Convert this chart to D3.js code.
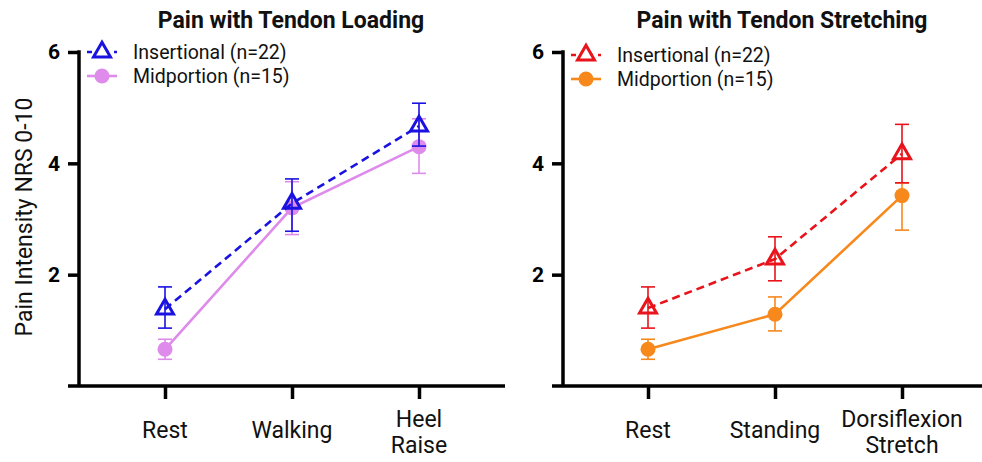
<!DOCTYPE html>
<html>
<head>
<meta charset="utf-8">
<script src="https://cdn.jsdelivr.net/npm/d3@7/dist/d3.min.js"></script>
<style>
  html, body { margin: 0; padding: 0; background: #fff; }
  svg { display: block; font-family: Roboto, "Noto Sans", sans-serif; }
</style>
</head>
<body>
<svg id="chart" width="982" height="462"></svg>
<script>
// Categories for each panel (labels may wrap onto two lines)
const loadingCategories = ["Rest", "Walking", "Heel Raise"];
const stretchCategories = ["Rest", "Standing", "Dorsiflexion Stretch"];
const loadingLabelLines = [["Rest"], ["Walking"], ["Heel", "Raise"]];
const stretchLabelLines = [["Rest"], ["Standing"], ["Dorsiflexion", "Stretch"]];

// Tendon loading: means with lower / upper error limits
const loadingInsertional = [1.38, 3.28, 4.67];
const loadingInsertionalLow = [1.04, 2.78, 4.31];
const loadingInsertionalHigh = [1.78, 3.72, 5.08];
const loadingMidportion = [0.66, 3.2, 4.3];
const loadingMidportionLow = [0.48, 2.72, 3.82];
const loadingMidportionHigh = [0.84, 3.67, 4.8];

// Tendon stretching
const stretchInsertional = [1.4, 2.28, 4.17];
const stretchInsertionalLow = [1.04, 1.89, 3.65];
const stretchInsertionalHigh = [1.78, 2.68, 4.7];
const stretchMidportion = [0.66, 1.29, 3.42];
const stretchMidportionLow = [0.48, 0.99, 2.8];
const stretchMidportionHigh = [0.84, 1.6, 3.65];

const yTicks = [2, 4, 6];
const seriesNames = ["Insertional (n=22)", "Midportion (n=15)"];

const svg = d3.select("#chart");
const y = d3.scaleLinear().domain([0, 6]).range([386, 52]);

function build(values, low, high) {
  return values.map((v, i) => ({ i, v, lo: low[i], hi: high[i] }));
}

const panels = [
  {
    title: "Pain with Tendon Loading", titleX: 291,
    cats: loadingCategories, lines: loadingLabelLines,
    xRange: [165, 419], axisX: 79, xAxisEnd: 505,
    legendDy: 0,
    ins: build(loadingInsertional, loadingInsertionalLow, loadingInsertionalHigh),
    mid: build(loadingMidportion, loadingMidportionLow, loadingMidportionHigh),
    insColor: "#1a12e0", midColor: "#de8bec"
  },
  {
    title: "Pain with Tendon Stretching", titleX: 782,
    cats: stretchCategories, lines: stretchLabelLines,
    xRange: [648, 902], axisX: 563, xAxisEnd: 982,
    legendDy: 3,
    ins: build(stretchInsertional, stretchInsertionalLow, stretchInsertionalHigh),
    mid: build(stretchMidportion, stretchMidportionLow, stretchMidportionHigh),
    insColor: "#e8131b", midColor: "#f7881c"
  }
];

const triangle = d3.symbol().type(d3.symbolTriangle).size(125);

function drawSeries(g, x, data, color, dashed, marker) {
  const line = d3.line().x(d => x(d.i)).y(d => y(d.v));
  g.append("path").datum(data)
    .attr("d", line).attr("fill", "none")
    .attr("stroke", color).attr("stroke-width", 2.6)
    .attr("stroke-dasharray", dashed ? "8,5" : null);
  const eb = g.append("g").selectAll("g").data(data).join("g")
    .attr("stroke", color).attr("stroke-width", 1.6);
  eb.append("line")
    .attr("x1", d => x(d.i)).attr("x2", d => x(d.i))
    .attr("y1", d => y(d.lo)).attr("y2", d => y(d.hi));
  eb.append("line")
    .attr("x1", d => x(d.i) - 7).attr("x2", d => x(d.i) + 7)
    .attr("y1", d => y(d.lo)).attr("y2", d => y(d.lo));
  eb.append("line")
    .attr("x1", d => x(d.i) - 7).attr("x2", d => x(d.i) + 7)
    .attr("y1", d => y(d.hi)).attr("y2", d => y(d.hi));
  if (marker === "triangle") {
    g.append("g").selectAll("path").data(data).join("path")
      .attr("d", triangle)
      .attr("transform", d => `translate(${x(d.i)},${y(d.v)})`)
      .attr("fill", "none").attr("stroke", color).attr("stroke-width", 3);
  } else {
    g.append("g").selectAll("circle").data(data).join("circle")
      .attr("cx", d => x(d.i)).attr("cy", d => y(d.v)).attr("r", 7.5)
      .attr("fill", color);
  }
}

panels.forEach(p => {
  const g = svg.append("g");
  const xi = d3.scalePoint().domain(d3.range(p.cats.length)).range(p.xRange);

  // Title
  g.append("text").attr("x", p.titleX).attr("y", 28)
    .attr("text-anchor", "middle").attr("font-weight", 700)
    .attr("font-size", 23).attr("fill", "#111").text(p.title);

  // Y axis
  const yAxis = g.append("g").attr("transform", `translate(${p.axisX},0)`)
    .call(d3.axisLeft(y).tickValues(yTicks).tickSize(11).tickPadding(8).tickFormat(d3.format("d")));
  yAxis.select(".domain").remove();
  yAxis.append("line").attr("x1", 0).attr("x2", 0)
    .attr("y1", y(6) - 1.75).attr("y2", y(0))
    .attr("stroke", "#000").attr("stroke-width", 3.5);
  yAxis.selectAll(".tick line").attr("stroke", "#000").attr("stroke-width", 3.5);
  yAxis.selectAll(".tick text").attr("font-size", 21).attr("font-weight", 700)
    .attr("fill", "#000").attr("font-family", "Roboto, sans-serif");

  // X axis
  const xAxis = g.append("g").attr("transform", `translate(0,${y(0)})`)
    .call(d3.axisBottom(xi).tickSize(13).tickFormat(""));
  xAxis.select(".domain").remove();
  xAxis.append("line").attr("x1", p.axisX - 11).attr("x2", p.xAxisEnd)
    .attr("y1", 0).attr("y2", 0).attr("stroke", "#000").attr("stroke-width", 3.5);
  xAxis.selectAll(".tick line").attr("stroke", "#000").attr("stroke-width", 3.5);

  // Category labels
  p.lines.forEach((ls, i) => {
    const t = g.append("text").attr("text-anchor", "middle")
      .attr("font-size", 23).attr("fill", "#111");
    const baseY = ls.length === 1 ? 438 : 427;
    ls.forEach((s, k) => {
      t.append("tspan").attr("x", xi(i)).attr("y", baseY + k * 26).text(s);
    });
  });

  // Series: midportion underneath insertional
  drawSeries(g, xi, p.mid, p.midColor, false, "circle");
  drawSeries(g, xi, p.ins, p.insColor, true, "triangle");

  // Legend
  const lg = g.append("g").attr("transform", `translate(${p.axisX + 8},${52 + p.legendDy})`);
  [0, 1].forEach(k => {
    const row = lg.append("g").attr("transform", `translate(0,${k * 24})`);
    const color = k === 0 ? p.insColor : p.midColor;
    row.append("line").attr("x1", 0).attr("x2", 30).attr("y1", 0).attr("y2", 0)
      .attr("stroke", color).attr("stroke-width", 2.6)
      .attr("stroke-dasharray", k === 0 ? "5,4,6,4,3" : null);
    if (k === 0) {
      row.append("path").attr("d", triangle).attr("transform", "translate(15,0)")
        .attr("fill", "#fff").attr("stroke", color).attr("stroke-width", 3);
    } else {
      row.append("circle").attr("cx", 15).attr("cy", 0).attr("r", 7.5).attr("fill", color);
    }
    row.append("text").attr("x", 46).attr("y", 0).attr("dy", "0.35em")
      .attr("font-size", 19.5).attr("fill", "#111").text(seriesNames[k]);
  });
});

// Shared y-axis title
svg.append("text")
  .attr("transform", "translate(32,217) rotate(-90)")
  .attr("text-anchor", "middle").attr("font-size", 23).attr("fill", "#111")
  .text("Pain Intensity NRS 0-10");
</script>
</body>
</html>
